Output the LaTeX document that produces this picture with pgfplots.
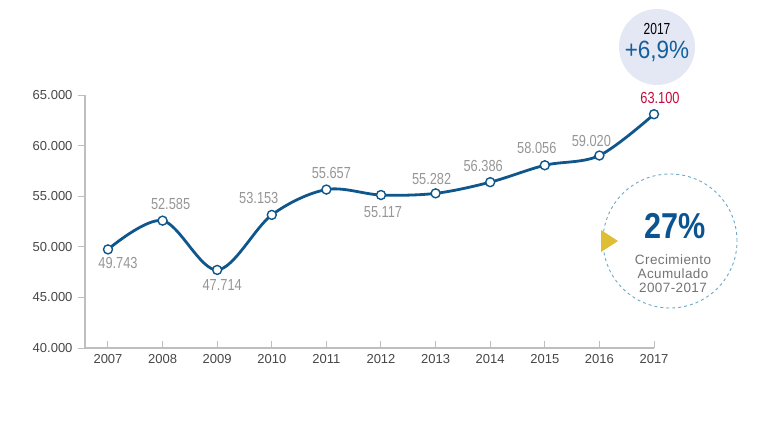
\documentclass[border=0pt]{standalone}
\usepackage{pgfplots}
\pgfplotsset{compat=1.18}
\usepackage{pgfplotstable}
\usepackage{fontspec}
\setmainfont{Liberation Sans}
\newfontfamily\condfont[FakeStretch=0.8]{Liberation Sans}
\newfontfamily\narrowfont[FakeStretch=0.75]{Liberation Sans}
\newfontfamily\midfont[FakeStretch=0.9]{Liberation Sans}
\newfontfamily\bigfont[FakeStretch=0.85]{Liberation Sans}
\newfontfamily\circfont[LetterSpace=3]{Liberation Sans}
\definecolor{lineblue}{RGB}{14,86,140}
\definecolor{axisgray}{RGB}{190,190,190}
\definecolor{tickgray}{RGB}{70,70,70}
\definecolor{labgray}{RGB}{150,150,150}
\definecolor{labred}{RGB}{200,10,60}
\definecolor{bubble}{RGB}{228,232,244}
\definecolor{pctblue}{RGB}{20,95,155}
\definecolor{bigblue}{RGB}{10,85,145}
\definecolor{dashblue}{RGB}{110,170,195}
\definecolor{triyellow}{RGB}{222,190,50}
\definecolor{txtgray}{RGB}{115,115,115}

\pgfplotstableread{
x y
2007 49743
2008 52585
2009 47714
2010 53153
2011 55657
2012 55117
2013 55282
2014 56386
2015 58056
2016 59020
2017 63100
}\serie

\pgfplotstableread{
x y lab dx dy
2007 49743 49.743 10 -14
2008 52585 52.585 8 17
2009 47714 47.714 5 -15
2010 53153 53.153 -13 17
2011 55657 55.657 5 17
2012 55117 55.117 2 -17
2013 55282 55.282 -4 14
2014 56386 56.386 -7 16
2015 58056 58.056 -8 17
2016 59020 59.020 -8 15
}\etiquetas

\pgfplotstableread{
x y lab dx dy
2017 63100 63.100 6 16
}\etiquetaroja

\begin{document}
\begin{tikzpicture}[x=1pt,y=1pt]
\useasboundingbox (0,0) rectangle (770,421);
\begin{axis}[
  at={(85pt,73pt)}, anchor=south west,
  scale only axis, width=569pt, height=253pt,
  xmin=2006.579, xmax=2017, ymin=40000, ymax=65000,
  clip=false,
  axis x line*=bottom, axis y line*=left,
  axis line style={draw=axisgray, line width=1.2pt},
  xtick={2007,2008,...,2017},
  ytick={40000,45000,...,65000},
  scaled y ticks=false,
  tick align=inside,
  major tick length=7pt,
  every tick/.style={draw=axisgray, line width=1pt},
  ytick style={xshift=-7pt},
  /pgf/number format/assume math mode=true,
  xticklabel style={/pgf/number format/1000 sep={}, font=\fontsize{13}{15}\selectfont, text=tickgray, yshift=-3pt},
  yticklabel style={/pgf/number format/fixed, /pgf/number format/precision=0, /pgf/number format/1000 sep={.}, font=\fontsize{13}{15}\selectfont, text=tickgray, xshift=-9pt},
]
\addplot[color=lineblue, line width=2.8pt, smooth, tension=0.55,
  mark=*, mark size=4.5pt,
  mark options={fill=white, draw=lineblue, line width=1.4pt}] table[x=x,y=y] {\serie};

\addplot[draw=none, mark=none, nodes near coords, point meta=explicit symbolic,
  visualization depends on={\thisrow{dx} \as \dx},
  visualization depends on={\thisrow{dy} \as \dy},
  every node near coord/.append style={anchor=center, xshift=\dx pt, yshift=\dy pt,
    font=\condfont\fontsize{16}{18}\selectfont, text=labgray, inner sep=0pt}]
  table[x=x,y=y,meta=lab] {\etiquetas};

\addplot[draw=none, mark=none, nodes near coords, point meta=explicit symbolic,
  visualization depends on={\thisrow{dx} \as \dx},
  visualization depends on={\thisrow{dy} \as \dy},
  every node near coord/.append style={anchor=center, xshift=\dx pt, yshift=\dy pt,
    font=\condfont\fontsize{16}{18}\selectfont, text=labred, inner sep=0pt}]
  table[x=x,y=y,meta=lab] {\etiquetaroja};
\end{axis}

% bubble
\fill[bubble] (657,374) circle (38);
\node[font=\narrowfont\fontsize{16}{18}\selectfont, text=black, inner sep=0pt] at (657,392) {2017};
\node[font=\midfont\fontsize{25}{28}\selectfont, text=pctblue, inner sep=0pt] at (657,370) {+6,9\%};

% dashed circle
\draw[dashblue, line width=0.9pt, dash pattern=on 3pt off 3pt] (670,180) circle (67);
\fill[triyellow] (601,191) -- (601,169) -- (618,180) -- cycle;
\node[font=\bigfont\bfseries\fontsize{36}{40}\selectfont, text=bigblue, inner sep=0pt] at (675,195) {27\%};
\node[font=\circfont\fontsize{13.5}{14}\selectfont, text=txtgray, align=center, inner sep=0pt] at (673,147) {Crecimiento\\Acumulado\\2007-2017};
\end{tikzpicture}
\end{document}
